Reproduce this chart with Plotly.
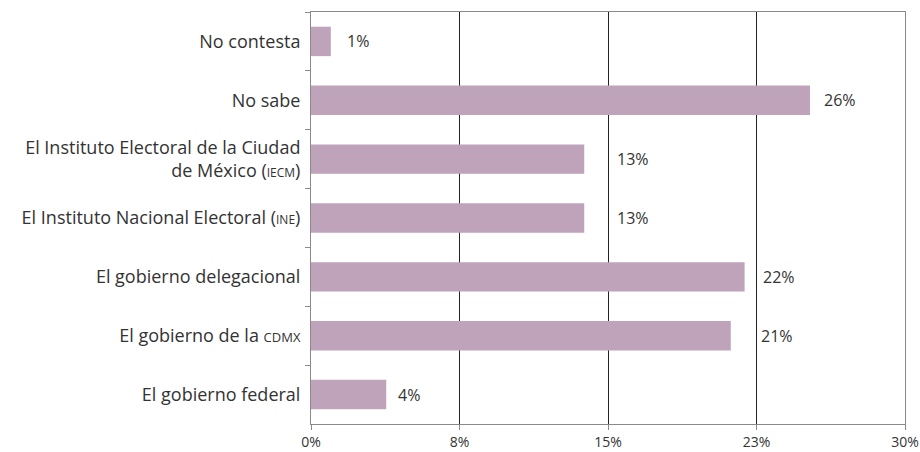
import plotly.graph_objects as go

categories = [
    "No contesta",
    "No sabe",
    "El Instituto Electoral de la Ciudad<br>de México (<span style='font-size:12px'>IECM</span>)",
    "El Instituto Nacional Electoral (<span style='font-size:12px'>INE</span>)",
    "El gobierno delegacional",
    "El gobierno de la <span style='font-size:13px'>CDMX</span>",
    "El gobierno federal",
]
values = [1.0, 25.2, 13.8, 13.8, 21.9, 21.2, 3.8]
value_labels = ["1%", "26%", "13%", "13%", "22%", "21%", "4%"]
tick_vals = [0, 7.5, 15, 22.5, 30]
tick_text = ["0%", "8%", "15%", "23%", "30%"]

# styling: pixel gap between each bar end and its label (as placed in the original)
label_gap_px = [14, 12, 31, 31, 16, 28, 10]

FONT = "Open Sans"
TXT = "#333333"
AXIS = "#8a8a8a"

fig = go.Figure(
    go.Bar(
        x=values,
        y=categories,
        orientation="h",
        marker=dict(color="#BEA3BB", line=dict(width=0)),
        width=0.5,
        hoverinfo="skip",
    )
)

for c, v, t, g in zip(categories, values, value_labels, label_gap_px):
    fig.add_annotation(
        x=v, y=c, text=t, showarrow=False, xanchor="left", xshift=g,
        font=dict(family=FONT, size=16, color=TXT),
    )

fig.update_layout(
    width=920, height=452,
    margin=dict(l=311, r=15, t=12, b=28, autoexpand=False),
    plot_bgcolor="white", paper_bgcolor="white",
    showlegend=False,
    font=dict(family=FONT, color=TXT),
    bargap=0.5,
)
fig.update_xaxes(
    range=[0, 30], tickvals=tick_vals, ticktext=tick_text,
    showgrid=True, gridcolor="#222222", gridwidth=1,
    showline=True, linecolor=AXIS, linewidth=1, mirror=True,
    ticks="outside", ticklen=5, tickcolor=AXIS,
    tickfont=dict(family=FONT, size=14, color=TXT),
    zeroline=False, fixedrange=True, automargin=False,
)
fig.update_yaxes(
    autorange="reversed", type="category",
    showgrid=False, showline=True, linecolor=AXIS, linewidth=1, mirror=True,
    ticks="outside", ticklen=5, tickcolor=AXIS, tickson="boundaries",
    tickfont=dict(family=FONT, size=18, color=TXT),
    ticklabelstandoff=6,
    fixedrange=True, automargin=False,
)

fig.write_html(
    "out.html",
    config={"displayModeBar": False},
    post_script="document.body.style.margin='0';document.body.style.overflow='hidden';",
)
